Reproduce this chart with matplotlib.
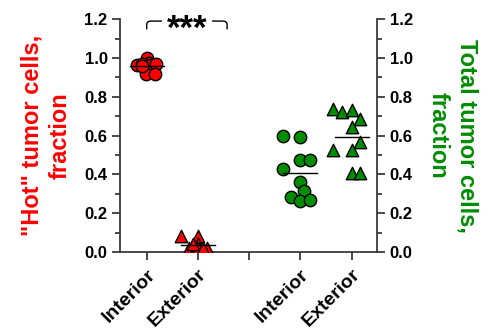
import matplotlib.pyplot as plt
import matplotlib.patches as mpatches
from matplotlib.path import Path
import numpy as np

plt.rcParams['font.family'] = ['Liberation Sans', 'DejaVu Sans']
plt.rcParams['font.weight'] = 'bold'

# values
hot_interior = [1.00, 0.975, 0.965, 0.97, 0.96, 0.965, 0.97, 0.915, 0.915, 0.96]
hot_interior_dx = [0.0, 0.05, -0.18, -0.09, 0.0, 0.09, 0.18, -0.02, 0.16, -0.1]
hot_exterior = [0.085, 0.085, 0.04, 0.02, 0.02, 0.01, 0.01, 0.02, 0.02, 0.04]
hot_exterior_dx = [-0.33, 0.0, 0.0, -0.18, 0.18, -0.05, 0.05, 0.0, 0.1, -0.1]
tot_interior = [0.598, 0.593, 0.477, 0.477, 0.43, 0.36, 0.313, 0.284, 0.261, 0.266]
tot_interior_dx = [-0.34, 0.0, 0.0, 0.18, -0.34, 0.0, 0.08, -0.18, 0.0, 0.18]
tot_exterior = [0.737, 0.72, 0.733, 0.685, 0.642, 0.569, 0.524, 0.524, 0.405, 0.408]
tot_exterior_dx = [-0.36, -0.18, 0.0, 0.17, 0.0, 0.17, -0.36, 0.0, 0.0, 0.17]

positions = [1, 2, 3, 4, 5]
tick_labels = ['Interior', 'Exterior', '', 'Interior', 'Exterior']

red = '#FF0000'
green = '#008C00'
spine_col = '#3a3a3a'

fig = plt.figure(figsize=(4.88, 3.30), dpi=100)
ax = fig.add_axes([0.246, 0.236, 0.527, 0.706])
ax2 = ax.twinx()

def swarm(a, x0, vals, dx, marker, color):
    a.scatter(np.array(dx) + x0, vals, s=80, marker=marker, facecolor=color,
              edgecolor='black', linewidth=1.0, zorder=3)
    a.plot([x0 - 0.33, x0 + 0.33], [np.mean(vals)] * 2, color='black', lw=1.0, zorder=4)

swarm(ax, 1, hot_interior, hot_interior_dx, 'o', red)
swarm(ax, 2, hot_exterior, hot_exterior_dx, '^', red)
swarm(ax2, 4, tot_interior, tot_interior_dx, 'o', green)
swarm(ax2, 5, tot_exterior, tot_exterior_dx, '^', green)

for a in (ax, ax2):
    a.set_ylim(0, 1.2)
    a.set_xlim(0.48, 5.5)
    a.set_yticks(np.arange(0, 1.21, 0.2))
    a.set_yticks(np.arange(0.1, 1.2, 0.2), minor=True)
    a.tick_params(axis='y', which='major', length=6, width=1.3, color=spine_col,
                  labelsize=12, pad=3)
    a.tick_params(axis='y', which='minor', length=3.5, width=1.3, color=spine_col)
    a.spines['top'].set_visible(False)
    for s in a.spines.values():
        s.set_linewidth(1.3)
        s.set_color(spine_col)

ax.spines['right'].set_visible(False)
ax2.spines['left'].set_visible(False)
ax2.spines['bottom'].set_visible(False)
ax.set_yticklabels([f'{v:.1f}' for v in np.arange(0, 1.21, 0.2)], fontweight='bold')
ax2.set_yticklabels([f'{v:.1f}' for v in np.arange(0, 1.21, 0.2)], fontweight='bold')

ax.set_xticks(positions)
ax.set_xticklabels(tick_labels, rotation=45, ha='right', rotation_mode='anchor',
                   fontsize=14, fontweight='bold')
ax.tick_params(axis='x', length=6, width=1.3, color=spine_col, pad=4)

ax.set_ylabel('"Hot" tumor cells,\nfraction', color=red, fontsize=17,
              fontweight='bold', labelpad=9, linespacing=1.3)
ax2.set_ylabel('Total tumor cells,\nfraction', color=green, fontsize=17,
               fontweight='bold', rotation=270, labelpad=47, linespacing=1.3)

# significance bracket
x0, x1, yt, yb = 1.0, 2.57, 1.19, 1.147
verts = [(x0, yb), (x0, yt - 0.02), (x0, yt), (x0 + 0.08, yt),
         (x1 - 0.08, yt), (x1, yt), (x1, yt - 0.02), (x1, yb)]
codes = [Path.MOVETO, Path.LINETO, Path.CURVE3, Path.CURVE3,
         Path.LINETO, Path.CURVE3, Path.CURVE3, Path.LINETO]
ax.add_patch(mpatches.PathPatch(Path(verts, codes), fill=False, lw=1.0,
                                color='black', clip_on=False))
ax.text((x0 + x1) / 2, yt - 0.045, '***', ha='center', va='center', fontsize=25,
        fontweight='bold', clip_on=False)
ax.plot([1.33, 2.23], [yt, yt], color='white', lw=3, clip_on=False, zorder=2.5)

fig.savefig('out.png', dpi=100)
